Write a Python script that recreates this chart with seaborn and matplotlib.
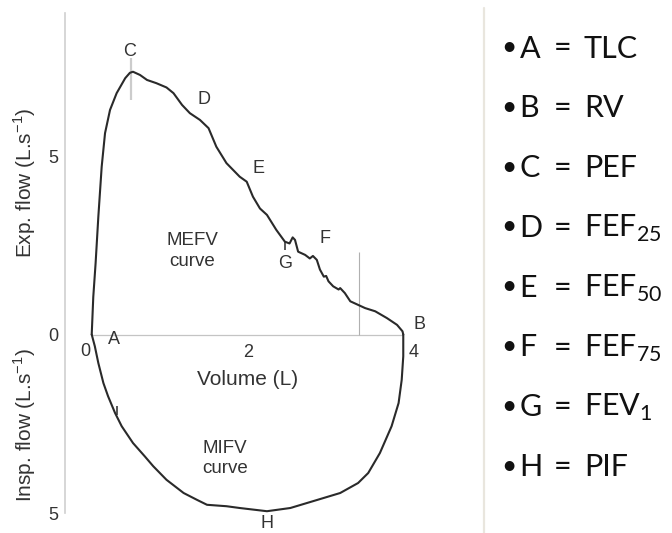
import matplotlib
matplotlib.use("Agg")
import matplotlib.pyplot as plt
from matplotlib.lines import Line2D
import numpy as np
import pandas as pd
import seaborn as sns

# ---------------- data ----------------
exp_volume = [0.00, 0.02, 0.05, 0.085, 0.128, 0.171, 0.235, 0.32, 0.43, 0.49, 0.53,
              0.62, 0.71, 0.83, 0.96, 1.05, 1.16, 1.26, 1.39, 1.50, 1.60, 1.73,
              1.90, 1.99, 2.07, 2.16, 2.25, 2.37, 2.48, 2.54, 2.58, 2.61, 2.65,
              2.74, 2.80, 2.84, 2.89, 2.93, 2.98, 3.01, 3.04, 3.10, 3.17, 3.19,
              3.25, 3.32, 3.42, 3.51, 3.64, 3.79, 3.92, 3.99, 4.00]
exp_flow = [0.00, 1.05, 2.00, 3.30, 4.70, 5.64, 6.29, 6.76, 7.18, 7.33, 7.36,
            7.27, 7.13, 7.04, 6.92, 6.76, 6.43, 6.20, 6.01, 5.78, 5.26, 4.80,
            4.42, 4.28, 3.86, 3.53, 3.35, 2.93, 2.60, 2.55, 2.72, 2.65, 2.32,
            2.23, 2.13, 2.20, 2.09, 1.82, 1.62, 1.64, 1.49, 1.35, 1.26, 1.30,
            1.16, 0.93, 0.83, 0.74, 0.65, 0.46, 0.27, 0.09, 0.00]

insp_volume = [0.00, 0.04, 0.085, 0.15, 0.21, 0.30, 0.385, 0.53, 0.68, 0.79, 0.96,
               1.18, 1.35, 1.48, 1.73, 1.90, 2.25, 2.55, 2.84, 3.19, 3.42, 3.55,
               3.70, 3.85, 3.94, 3.98, 4.00, 4.00]
insp_flow = [0.00, 0.33, 0.80, 1.36, 1.73, 2.20, 2.57, 3.04, 3.41, 3.69, 4.07,
             4.44, 4.63, 4.77, 4.81, 4.86, 4.95, 4.86, 4.67, 4.44, 4.16, 3.88,
             3.32, 2.57, 1.92, 1.27, 0.61, 0.00]

flow_ticks = [5, 0, -5]
flow_tick_labels = ["5", "0", "5"]
volume_tick_values = [0, 2, 4]
volume_tick_labels = ["0", "2", "4"]
volume_tick_pos = [(-0.086, -0.47), (2.01, -0.50), (4.13, -0.50)]

point_letters = ["A", "B", "C", "D", "E", "F", "G", "H"]
point_label_pos = [(0.28, -0.14), (4.21, 0.27), (0.49, 7.92), (1.44, 6.57),
                   (2.14, 4.65), (2.99, 2.69), (2.48, 1.99), (2.25, -5.30)]

legend_letters = ["A", "B", "C", "D", "E", "F", "G", "H"]
legend_defs = ["TLC", "RV", "PEF", r"FEF$_{\mathregular{25}}$", r"FEF$_{\mathregular{50}}$",
               r"FEF$_{\mathregular{75}}$", r"FEV$_{\mathregular{1}}$", "PIF"]

# markers (x, y0, y1)
pef_mark = (0.50, 6.57, 7.74)
fef75_mark = (3.43, 0.0, 2.32)
fev1_mark = (2.48, 2.37, 2.60)
insp_mark = (0.32, 2.01, 2.25)

# ---------------- style ----------------
sns.set_theme(style="white")
plt.rcParams["font.family"] = ["Liberation Sans", "DejaVu Sans"]
plt.rcParams["mathtext.fontset"] = "custom"
plt.rcParams["mathtext.rm"] = "Liberation Sans"

W, H = 672, 533
fig = plt.figure(figsize=(W / 100, H / 100), dpi=100)
fig.patch.set_facecolor("white")

# axes rect in pixels: left 65, right 450, top 13.2, bottom 513
ax = fig.add_axes([65 / W, (H - 513) / H, (450 - 65) / W, (513 - 13.2) / H])
ax.set_xlim(-0.343, 4.60)
ax.set_ylim(-5.0, 9.0)
ax.set_facecolor("white")

line_col = "#2a2a2a"
text_col = "#333333"

exp_df = pd.DataFrame({"volume": exp_volume, "flow": exp_flow})
insp_df = pd.DataFrame({"volume": insp_volume, "flow": -np.asarray(insp_flow)})

# zero line
ax.hlines(0, min(volume_tick_values), max(volume_tick_values), color="#c4c4c4", lw=0.9, zorder=1)
# marker lines
ax.vlines(pef_mark[0], pef_mark[1], pef_mark[2], color="#cccccc", lw=1.6, zorder=1)
ax.vlines(fef75_mark[0], fef75_mark[1], fef75_mark[2], color="#b0b0b0", lw=0.8, zorder=1)

sns.lineplot(data=exp_df, x="volume", y="flow", sort=False, estimator=None,
             color=line_col, linewidth=1.5, ax=ax, zorder=3)
sns.lineplot(data=insp_df, x="volume", y="flow", sort=False, estimator=None,
             color=line_col, linewidth=1.5, ax=ax, zorder=3)

ax.vlines(fev1_mark[0], fev1_mark[1], fev1_mark[2], color=line_col, lw=1.1, zorder=3)
ax.vlines(insp_mark[0], -insp_mark[1], -insp_mark[2], color=line_col, lw=1.1, zorder=3)

# axes decoration
for s in ["top", "right", "bottom"]:
    ax.spines[s].set_visible(False)
ax.spines["left"].set_color("#cfcfcf")
ax.spines["left"].set_linewidth(1.2)
ax.set_xticks([])
ax.set_yticks(flow_ticks)
ax.set_yticklabels(flow_tick_labels)
ax.tick_params(axis="y", length=0, pad=4.5, labelsize=13, labelcolor=text_col)
ax.set_xlabel("")
ax.set_ylabel("")

for lab, (x, y) in zip(volume_tick_labels, volume_tick_pos):
    ax.text(x, y, lab, ha="center", va="center", fontsize=13, color=text_col)

for lab, (x, y) in zip(point_letters, point_label_pos):
    ax.text(x, y, lab, ha="center", va="center", fontsize=13, color=text_col, clip_on=False)

ax.text(2.0, -1.27, "Volume (L)", ha="center", va="center", fontsize=15, color=text_col)
ax.text(1.29, 2.34, "MEFV\ncurve", ha="center", va="center", fontsize=13.5,
        color=text_col, linespacing=1.25)
ax.text(1.71, -3.47, "MIFV\ncurve", ha="center", va="center", fontsize=13.5,
        color=text_col, linespacing=1.25)

fig.text(25 / W, 1 - 183 / H, r"Exp. flow (L.s$^{\mathregular{-1}}$)", rotation=90,
         ha="center", va="center", fontsize=15, color=text_col)
fig.text(25 / W, 1 - 425.5 / H, r"Insp. flow (L.s$^{\mathregular{-1}}$)", rotation=90,
         ha="center", va="center", fontsize=15, color=text_col)

# ---------------- right-hand list ----------------
fig.add_artist(Line2D([483.5 / W, 483.5 / W], [0, 1 - 8 / H], transform=fig.transFigure,
                      color="#e9e6de", lw=1.6))

list_font = ["Lato", "DejaVu Sans"]
plt.rcParams["mathtext.rm"] = "Lato"
fs = 22
for i, (letter, d) in enumerate(zip(legend_letters, legend_defs)):
    base = 57.5 + 59.8 * i
    yb = 1 - base / H
    fig.text(509 / W, 1 - (base - 2.5) / H, "\u2022", ha="center", va="baseline",
             fontsize=19, family=list_font, color="#111111")
    fig.text(519.5 / W, yb, letter, ha="left", va="baseline", fontsize=fs,
             family=list_font, color="#111111")
    fig.text(554 / W, yb, "=", ha="left", va="baseline", fontsize=fs,
             family=list_font, color="#111111")
    fig.text(584 / W, yb, d, ha="left", va="baseline", fontsize=fs,
             family=list_font, color="#111111")

fig.savefig("out.png", dpi=100, facecolor="white")
